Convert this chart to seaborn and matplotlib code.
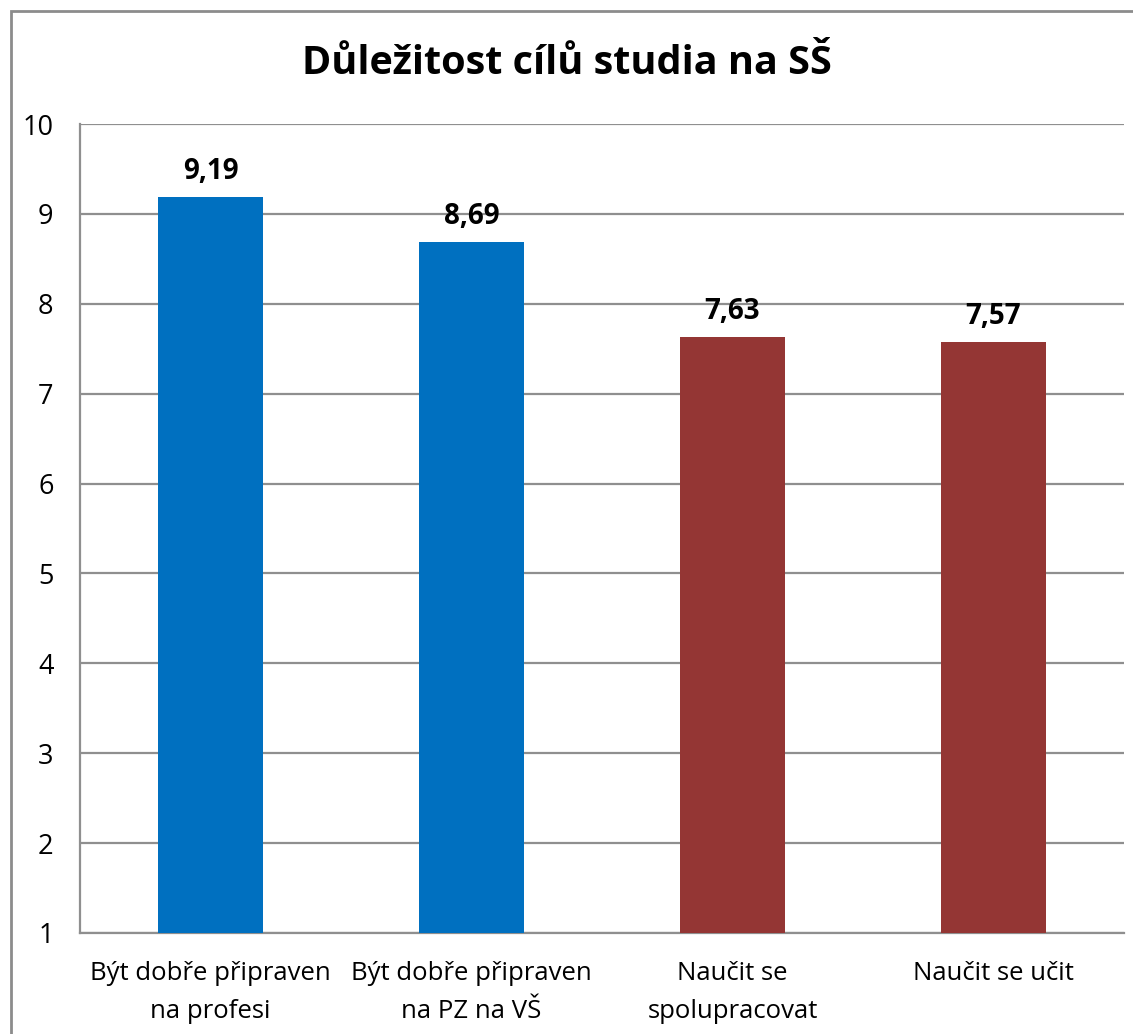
import matplotlib
matplotlib.use("Agg")
import matplotlib.pyplot as plt
import seaborn as sns
import pandas as pd
from matplotlib.patches import Rectangle

categories = ["Být dobře připraven\nna profesi", "Být dobře připraven\nna PZ na VŠ",
              "Naučit se\nspolupracovat", "Naučit se učit"]
values = [9.19, 8.69, 7.63, 7.57]
bar_colors = ["#0070C0", "#0070C0", "#943634", "#943634"]
y_ticks = [1, 2, 3, 4, 5, 6, 7, 8, 9, 10]
title = "Důležitost cílů studia na SŠ"

sns.set_style("white")
plt.rcParams["font.family"] = ["Open Sans", "DejaVu Sans"]
plt.rcParams["text.color"] = "black"
plt.rcParams["xtick.color"] = "black"
plt.rcParams["ytick.color"] = "black"

df = pd.DataFrame({"cat": categories, "val": values})

fig = plt.figure(figsize=(11.33, 10.34), dpi=100)
ax = fig.add_axes([0.0706, 0.0977, 0.9214, 0.7823])

sns.barplot(data=df, x="cat", y="val", hue="cat", palette=bar_colors,
            width=0.4, legend=False, ax=ax, saturation=1, linewidth=0, zorder=3)

grid_col = "#8f8f8f"
ax.set_ylim(1, 10)
ax.set_xlim(-0.5, 3.5)
ax.set_yticks(y_ticks)
ax.set_yticklabels([str(t) for t in y_ticks], fontsize=19.5)
ax.yaxis.grid(True, color=grid_col, linewidth=1.6, zorder=0)
ax.set_axisbelow(True)

ax.set_xticks(range(len(categories)))
ax.set_xticklabels(categories, fontsize=18.5, linespacing=1.7)
ax.tick_params(axis="x", length=0, pad=20)
ax.set_xticks([-0.5, 0.5, 1.5, 2.5, 3.5], minor=True)
ax.tick_params(axis="x", which="minor", length=8, width=1.6, color=grid_col, direction="out")
ax.tick_params(axis="y", length=7, width=1.6, color=grid_col, direction="out", pad=12)

for s in ["top", "right"]:
    ax.spines[s].set_visible(False)
for s in ["left", "bottom"]:
    ax.spines[s].set_color(grid_col)
    ax.spines[s].set_linewidth(1.6)

ax.set_xlabel("")
ax.set_ylabel("")

for i, v in enumerate(values):
    ax.annotate(f"{v:.2f}".replace(".", ","), (i, v), xytext=(0, 8),
                textcoords="offset points", ha="center", va="bottom",
                fontsize=20, fontweight="bold")

fig.text(0.5, 0.939, title, ha="center", va="center", fontsize=28.5, fontweight="bold")

fig.patches.append(Rectangle((11 / 1133, -0.05), 1.2, 1 - 11 / 1034 + 0.05,
                             transform=fig.transFigure, fill=False,
                             edgecolor="#8c8c8c", linewidth=2))

fig.savefig("out.png", dpi=100)
